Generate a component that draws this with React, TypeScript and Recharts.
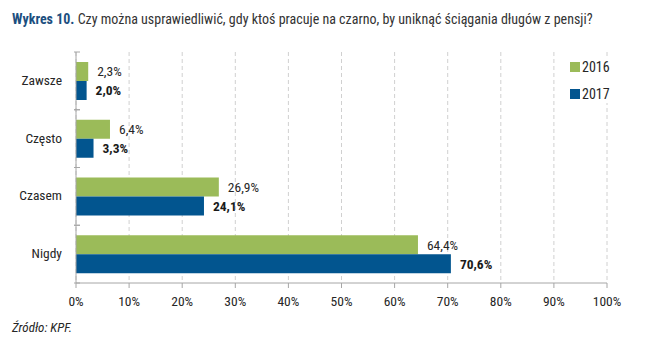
import { BarChart, Bar, XAxis, YAxis, CartesianGrid, LabelList } from 'recharts';

const categories = ['Zawsze', 'Często', 'Czasem', 'Nigdy'];
const values2016 = [2.3, 6.4, 26.9, 64.4];
const values2017 = [2.0, 3.3, 24.1, 70.6];
const xTicks = [0, 10, 20, 30, 40, 50, 60, 70, 80, 90, 100];

const GREEN = '#9bbb59';
const BLUE = '#02558f';
const FONT = "'Liberation Sans Narrow', 'Roboto Condensed', 'DejaVu Sans Condensed', sans-serif";

const data = categories.map((name, i) => ({
  name,
  y2016: values2016[i],
  y2017: values2017[i],
}));

const fmt = (v: any) => `${Number(v).toFixed(1).replace('.', ',')}%`;

// category tick with separator marks at band edges
function CategoryTick(props: any) {
  const { x, y, payload } = props;
  const half = 231 / 8;
  return (
    <g>
      <line x1={x + 6} x2={x + 12} y1={y - half} y2={y - half} stroke="#a6a6a6" />
      <line x1={x + 6} x2={x + 12} y1={y + half} y2={y + half} stroke="#a6a6a6" />
      <text x={x - 6} y={y} dy={4} textAnchor="end" fill="#262626" fontSize={13.5} fontFamily={FONT}>
        {payload.value}
      </text>
    </g>
  );
}

export default function App() {
  return (
    <div style={{ position: 'absolute', left: 0, top: 0, width: 650, height: 356, background: '#fff', fontFamily: FONT }}>
      <div style={{ position: 'absolute', left: 12, top: 11, fontSize: 14, color: '#333', whiteSpace: 'nowrap' }}>
        <span style={{ color: '#1c4f80', fontWeight: 'bold' }}>Wykres 10.</span> Czy można usprawiedliwić, gdy ktoś pracuje na czarno, by uniknąć ściągania długów z pensji?
      </div>

      <BarChart
        width={650}
        height={356}
        data={data}
        layout="vertical"
        margin={{ top: 52, right: 43, bottom: 43, left: 16 }}
        barCategoryGap={10}
        barGap={0}
      >
        <CartesianGrid horizontal={false} stroke="#d0d0d0" strokeDasharray="4 3" />
        <XAxis
          type="number"
          domain={[0, 100]}
          ticks={xTicks}
          tickFormatter={(v) => `${v}%`}
          tick={{ fill: '#262626', fontSize: 13.5, fontFamily: FONT }}
          tickLine={{ stroke: '#a6a6a6' }}
          tickSize={5}
          tickMargin={8}
          axisLine={{ stroke: '#a6a6a6' }}
          height={30}
          interval={0}
        />
        <YAxis
          type="category"
          dataKey="name"
          width={60}
          tick={<CategoryTick />}
          tickLine={false}
          axisLine={{ stroke: '#a6a6a6' }}
        />
        <Bar dataKey="y2016" fill={GREEN} isAnimationActive={false}>
          <LabelList dataKey="y2016" position="right" offset={9} formatter={fmt}
            style={{ fill: '#262626', fontSize: 13.5, fontFamily: FONT }} />
        </Bar>
        <Bar dataKey="y2017" fill={BLUE} isAnimationActive={false}>
          <LabelList dataKey="y2017" position="right" offset={9} formatter={fmt}
            style={{ fill: '#1a1a1a', fontSize: 13.5, fontWeight: 'bold', fontFamily: FONT }} />
        </Bar>
      </BarChart>

      <div style={{ position: 'absolute', left: 566, top: 58, width: 56, background: '#fff', fontSize: 14, color: '#262626', lineHeight: '16px' }}>
        <div style={{ display: 'flex', alignItems: 'center', padding: '1px 0 0 4px' }}>
          <span style={{ width: 10, height: 10, background: GREEN, marginRight: 2 }} />2016
        </div>
        <div style={{ display: 'flex', alignItems: 'center', padding: '11px 0 1px 4px' }}>
          <span style={{ width: 10, height: 10, background: BLUE, marginRight: 2 }} />2017
        </div>
      </div>

      <div style={{ position: 'absolute', left: 12, top: 320, fontSize: 13, fontStyle: 'italic', color: '#262626' }}>
        Źródło: KPF.
      </div>
    </div>
  );
}
